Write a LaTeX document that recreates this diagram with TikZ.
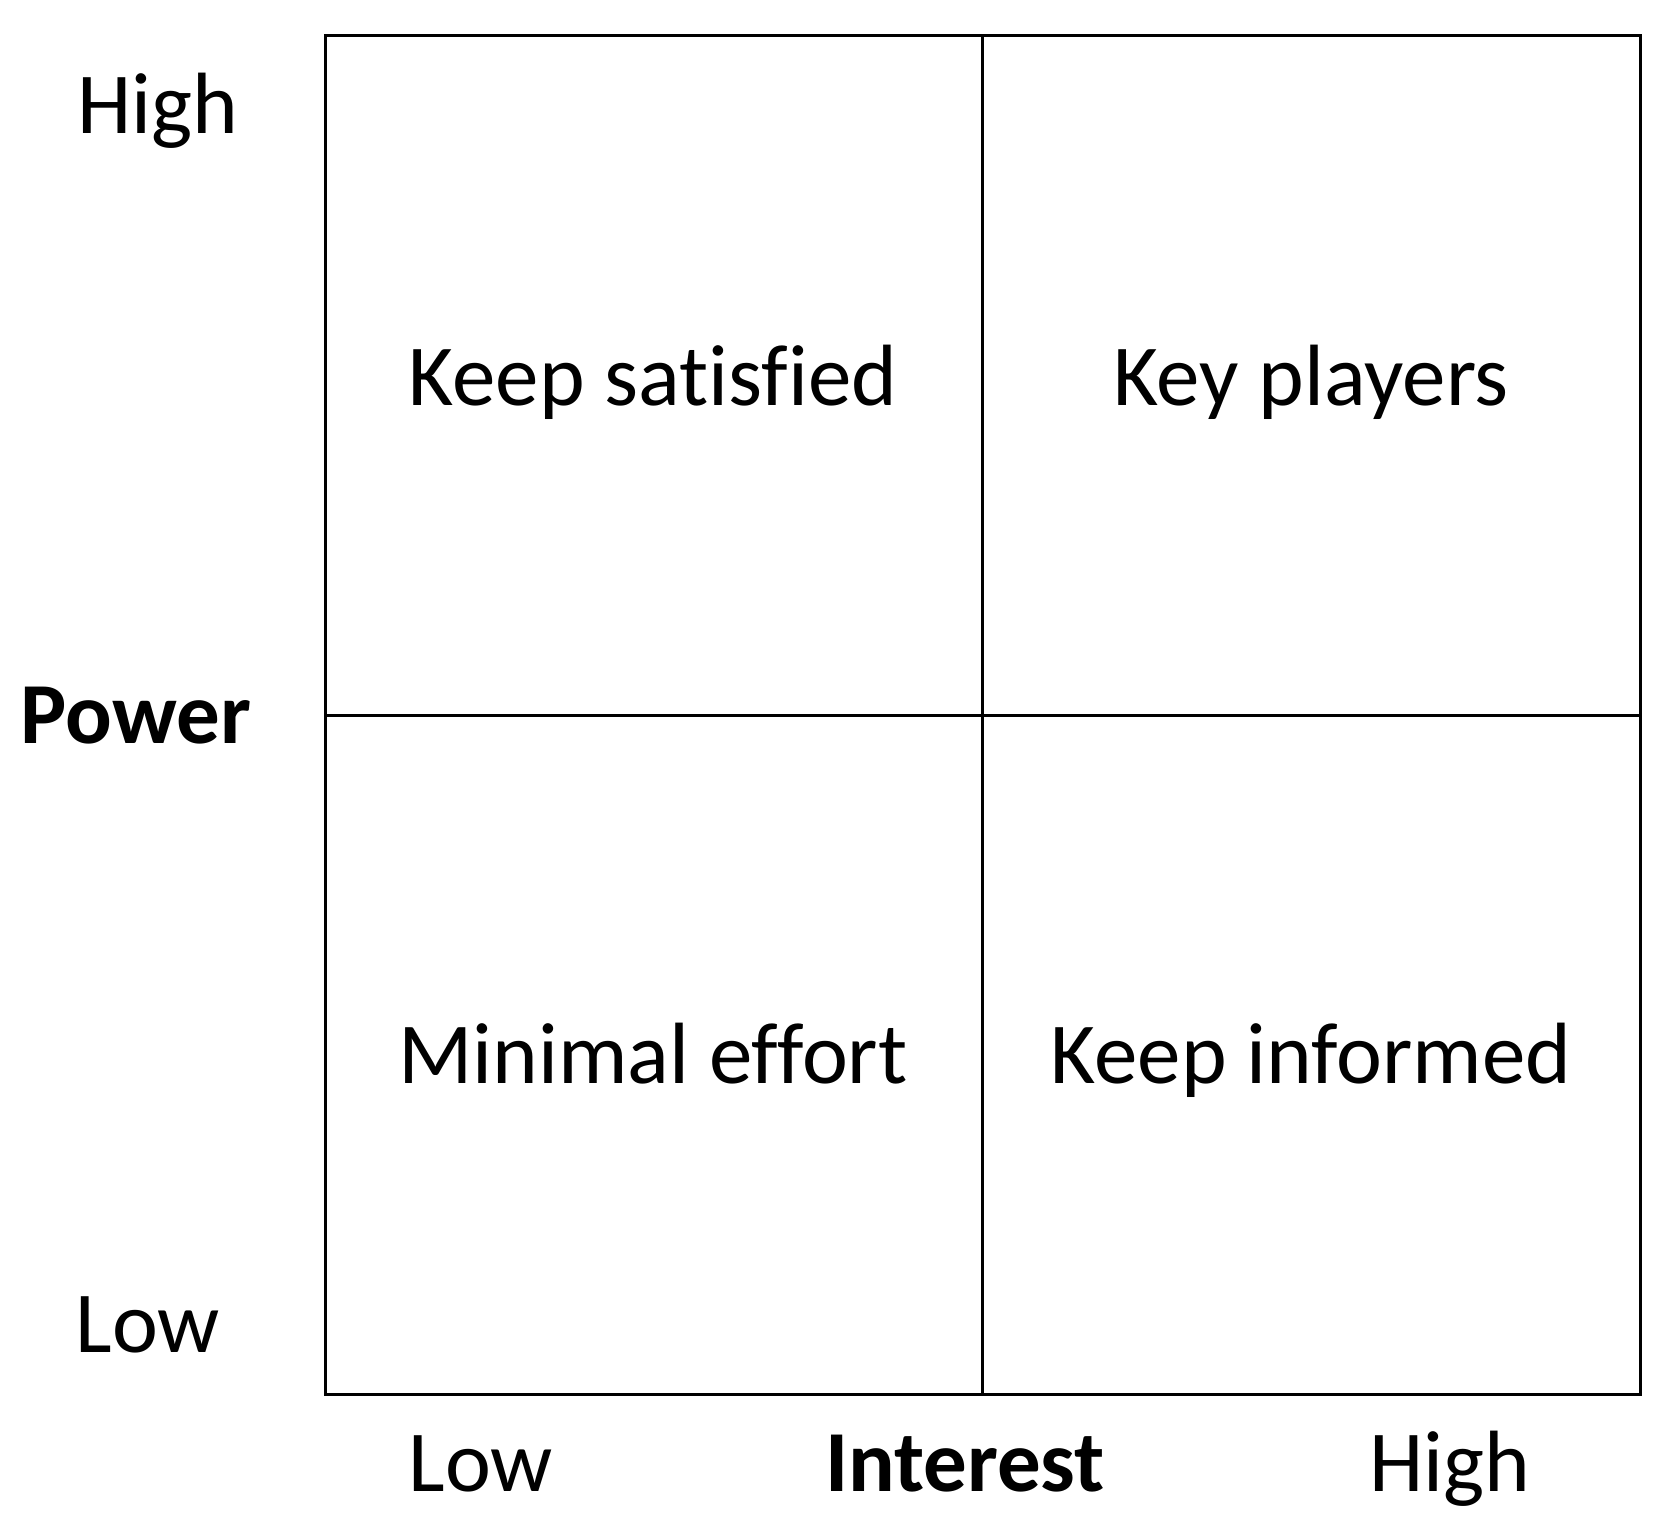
\documentclass[tikz,border=0pt]{standalone}
\usepackage{fontspec}
\setmainfont[Ligatures=NoCommon]{Carlito}
\begin{document}
\begin{tikzpicture}[x=1pt,y=-1pt,
  lbl/.style={anchor=base,inner sep=0pt,font=\fontsize{87}{100}\selectfont},
  blbl/.style={lbl,font=\fontsize{87}{100}\selectfont\bfseries},
  grid/.style={line width=3pt}]
\useasboundingbox (0,0) rectangle (1670,1535);
\coordinate (tl) at (325,35);
\coordinate (br) at (1640,1394);
\coordinate (tm) at (982,35);
\coordinate (bm) at (982,1394);
\coordinate (lm) at (325,715);
\coordinate (rm) at (1640,715);
\draw[grid] (tl) rectangle (br);
\draw[grid] (tm) -- (bm);
\draw[grid] (lm) -- (rm);
\node[lbl] (ks) at (653,405) {Keep satisfied};
\node[lbl] (kp) at (1311,405) {Key players};
\node[lbl] (me) at (653,1083) {Minimal effort};
\node[lbl] (ki) at (1311,1083) {Keep informed};
\node[lbl] (phigh) at (158,133) {High};
\node[blbl] (power) at (136,743) {Power};
\node[lbl] (plow) at (148,1352) {Low};
\node[lbl] (ilow) at (481,1491) {Low};
\node[blbl] (interest) at (965,1491) {Interest};
\node[lbl] (ihigh) at (1450,1491) {High};
\end{tikzpicture}
\end{document}
